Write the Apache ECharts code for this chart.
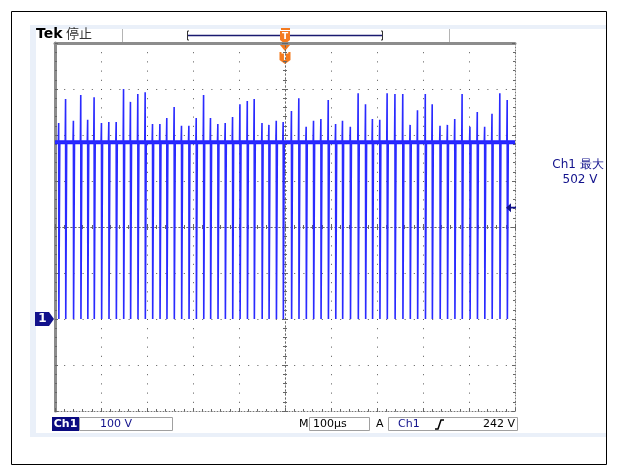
<!DOCTYPE html>
<html>
<head>
<meta charset="utf-8">
<script src="https://cdn.jsdelivr.net/npm/echarts@6/dist/echarts.min.js"></script>
<style>
  html, body { margin: 0; padding: 0; background: #ffffff; }
  #c { width: 617px; height: 475px; }
</style>
</head>
<body>
<div id="c"></div>
<script>
// Ch1 capture: 100 V/div, 100 µs/div, trigger at t = 0
const timeRange = [-500, 500];       // µs, 10 divisions
const voltRange = [-200, 600];       // V, 8 divisions (ground two divisions below centre)
const timeDiv = 100;
const voltDiv = 100;

// switching pulses: time of each edge (µs) and the overshoot peak reached just before it (V)
const pulseTimes = [
  -492, -477, -460, -444, -429, -415, -399, -383, -367, -351, -336, -320, -304, -288, -272, -257,
  -241, -225, -209, -193, -177, -162, -146, -130, -114, -98, -82, -67, -50, -35, -19, -4,
  14, 30, 46, 62, 78, 94, 110, 125, 142, 159, 175, 190, 206, 222, 239, 256,
  272, 288, 305, 320, 337, 353, 369, 385, 402, 418, 434, 450, 467, 483
];
const pulsePeaks = [
  426, 478, 431, 487, 433, 482, 426, 428, 428, 500, 472, 489, 493, 424, 424, 437,
  461, 420, 420, 437, 487, 437, 424, 426, 439, 467, 474, 478, 426, 422, 431, 428,
  452, 480, 418, 431, 435, 476, 424, 431, 418, 491, 467, 435, 433, 491, 489, 489,
  422, 454, 489, 467, 420, 422, 435, 489, 418, 450, 418, 446, 491, 476
];
const highLevel = 384;   // V between pulses
const lowLevel = 0;      // V at the bottom of each pulse

// readouts
const ch1Scale = '100 V';
const timeScale = '100µs';
const triggerLevel = 242;   // V
const ch1Max = 502;         // V

// build the trace from the pulse list
const trace = [[timeRange[0], highLevel]];
pulseTimes.forEach(function (t, i) {
  trace.push([t - 0.8, highLevel]);
  trace.push([t, pulsePeaks[i]]);
  trace.push([t + 0.4, lowLevel]);
  trace.push([t + 2.0, lowLevel]);
  trace.push([t + 2.4, highLevel]);
});
trace.push([timeRange[1], highLevel]);

const NAVY = '#12128c';
const FRAME = '#8c8c8c';
const DOT = '#555555';
const ORANGE = '#f47a1f';
const FONT = '"DejaVu Sans", Verdana, sans-serif';
const CJK = '"Noto Sans CJK SC", sans-serif';

const hiddenLabel = { show: false };
const dotted = { color: DOT, width: 1, type: [1, 8.2] };

function frameX(pos, extra) {
  return Object.assign({
    type: 'value', min: timeRange[0], max: timeRange[1], interval: timeDiv,
    position: pos, axisLabel: hiddenLabel, splitLine: { show: false },
    axisTick: { show: true, inside: true, length: 3, lineStyle: { color: '#666666' } },
    minorTick: { show: true, splitNumber: 5, length: 2, lineStyle: { color: '#666666' } }
  }, extra);
}
function frameY(pos, extra) {
  return Object.assign({
    type: 'value', min: voltRange[0], max: voltRange[1], interval: voltDiv,
    position: pos, axisLabel: hiddenLabel, splitLine: { show: false },
    axisTick: { show: true, inside: true, length: 3, lineStyle: { color: '#666666' } },
    minorTick: { show: true, splitNumber: 5, length: 2, lineStyle: { color: '#666666' } }
  }, extra);
}

const option = {
  animation: false,
  backgroundColor: '#ffffff',
  grid: { left: 55, right: 102, top: 43, bottom: 64, show: true, backgroundColor: '#ffffff', borderWidth: 0 },
  xAxis: [
    frameX('bottom', { axisLine: { show: true, onZero: false, lineStyle: { color: '#777777', width: 1, type: [1, 2] } },
                       splitLine: { show: true, lineStyle: dotted } }),
    frameX('top', { axisLine: { show: true, onZero: false, lineStyle: { color: FRAME, width: 3 } },
                    axisTick: { show: false } , minorTick: { show: false } }),
    frameX('bottom', { axisLine: { show: true, onZero: true, onZeroAxisIndex: 2, lineStyle: { color: '#666666', width: 1, type: [1, 3] } } }),
    frameX('top', { axisLine: { show: true, onZero: true, onZeroAxisIndex: 2, lineStyle: { color: '#666666', width: 1, type: [1, 3] } } })
  ],
  yAxis: [
    frameY('left', { axisLine: { show: true, onZero: false, lineStyle: { color: FRAME, width: 3 } },
                     splitLine: { show: true, lineStyle: dotted } }),
    frameY('right', { axisLine: { show: true, onZero: false, lineStyle: { color: '#777777', width: 1, type: [1, 2] } } }),
    { type: 'value', min: -400, max: 400, position: 'left', axisLine: { show: false, onZero: false },
      axisTick: { show: false }, axisLabel: hiddenLabel, splitLine: { show: false } },
    frameY('left', { axisLine: { show: true, onZero: true, onZeroAxisIndex: 0, lineStyle: { color: '#666666', width: 1, type: [1, 3] } } }),
    frameY('right', { axisLine: { show: true, onZero: true, onZeroAxisIndex: 0, lineStyle: { color: '#666666', width: 1, type: [1, 3] } } })
  ],
  series: [
    {
      name: 'Ch1 level',
      type: 'line', xAxisIndex: 0, yAxisIndex: 0, symbol: 'none', silent: true,
      data: [[timeRange[0], highLevel], [timeRange[1], highLevel]],
      lineStyle: { color: '#1f1fff', width: 4 },
      z: 3
    },
    {
      name: 'Ch1',
      type: 'line', xAxisIndex: 0, yAxisIndex: 0, symbol: 'none', silent: true,
      data: trace,
      lineStyle: { color: '#2a2aff', width: 1.6 },
      z: 4,
      markPoint: {
        silent: true,
        data: [
          { // trigger level arrow on the right edge
            coord: [timeRange[1], triggerLevel],
            symbol: 'path://M0,5 L6,0 L6,4 L12,4 L12,6 L6,6 L6,10 Z',
            symbolSize: [10, 9], symbolOffset: [-4, 0],
            itemStyle: { color: NAVY }, label: { show: false }
          },
          { // ground reference marker
            coord: [timeRange[0], lowLevel],
            symbol: 'path://M0,0 L14,0 L19,7 L14,14 L0,14 Z',
            symbolSize: [19, 14], symbolOffset: [-10.5, 0],
            itemStyle: { color: NAVY },
            label: { show: true, formatter: '1', color: '#ffffff', fontFamily: FONT, fontWeight: 'bold', fontSize: 12, offset: [-2, 0] }
          }
        ]
      }
    }
  ],
  graphic: [
    // screen surround
    { type: 'rect', shape: { x: 11.5, y: 11.5, width: 595, height: 453 }, style: { fill: null, stroke: '#000000', lineWidth: 1 }, z: 0 },
    { type: 'rect', shape: { x: 30, y: 25, width: 577, height: 412 }, style: { fill: '#eaf0f9' }, z: -10 },
    { type: 'rect', shape: { x: 36, y: 29, width: 571, height: 404 }, style: { fill: '#ffffff' }, z: -9 },

    // header
    { type: 'text', left: 36, top: 27, style: { text: 'Tek', font: 'bold 14px ' + FONT, fill: '#000000' } },
    { type: 'text', left: 66, top: 27, style: { text: '停止', font: '13px ' + CJK, fill: '#333333' } },
    { type: 'line', shape: { x1: 122.5, y1: 29, x2: 122.5, y2: 43 }, style: { stroke: '#b4b4b4', lineWidth: 1 } },
    { type: 'line', shape: { x1: 449.5, y1: 29, x2: 449.5, y2: 43 }, style: { stroke: '#b4b4b4', lineWidth: 1 } },
    { type: 'polyline', shape: { points: [[189, 31], [187.5, 31], [187.5, 40], [189, 40]] }, style: { stroke: '#333333', lineWidth: 1, fill: null } },
    { type: 'polyline', shape: { points: [[381, 31], [382.5, 31], [382.5, 40], [381, 40]] }, style: { stroke: '#333333', lineWidth: 1, fill: null } },
    { type: 'line', shape: { x1: 188, y1: 35.5, x2: 382, y2: 35.5 }, style: { stroke: '#1a1a70', lineWidth: 1.5 } },
    // trigger position marker on the record bar
    { type: 'rect', shape: { x: 281, y: 28, width: 9, height: 2 }, style: { fill: ORANGE } },
    { type: 'polygon', shape: { points: [[280, 31], [290, 31], [290, 40], [285, 44], [280, 40]] }, style: { fill: ORANGE } },
    { type: 'text', x: 285, y: 37, style: { text: 'T', font: 'bold 9px ' + FONT, fill: '#ffffff', textAlign: 'center', textVerticalAlign: 'middle' } },
    // trigger position marker below the top edge
    { type: 'polygon', shape: { points: [[280, 45], [290, 45], [285, 51]] }, style: { fill: ORANGE } },
    { type: 'polygon', shape: { points: [[279.5, 52], [290.5, 52], [290.5, 60], [285, 64], [279.5, 60]] }, style: { fill: ORANGE } },
    { type: 'text', x: 285, y: 57.5, style: { text: 'T', font: 'bold 10px ' + FONT, fill: '#ffffff', textAlign: 'center', textVerticalAlign: 'middle' } },

    // measurement readout
    { type: 'text', x: 578, y: 165, style: { text: 'Ch1 最大', font: '12px ' + FONT, fill: NAVY, textAlign: 'center', textVerticalAlign: 'middle' } },
    { type: 'text', x: 580, y: 180, style: { text: ch1Max + ' V', font: '12px ' + FONT, fill: NAVY, textAlign: 'center', textVerticalAlign: 'middle' } },

    // status bar
    { type: 'rect', shape: { x: 52, y: 417, width: 27, height: 14 }, style: { fill: '#0a0a80' } },
    { type: 'text', x: 65.5, y: 424.5, style: { text: 'Ch1', font: 'bold 11px ' + FONT, fill: '#ffffff', textAlign: 'center', textVerticalAlign: 'middle' } },
    { type: 'rect', shape: { x: 79.5, y: 417.5, width: 93, height: 13 }, style: { fill: '#ffffff', stroke: '#a0a0a0', lineWidth: 1 } },
    { type: 'text', x: 100, y: 424.5, style: { text: ch1Scale, font: '11px ' + FONT, fill: NAVY, textVerticalAlign: 'middle' } },
    { type: 'text', x: 299, y: 424.5, style: { text: 'M', font: '11px ' + FONT, fill: '#000000', textVerticalAlign: 'middle' } },
    { type: 'rect', shape: { x: 309.5, y: 417.5, width: 60, height: 13 }, style: { fill: '#ffffff', stroke: '#a0a0a0', lineWidth: 1 } },
    { type: 'text', x: 313, y: 424.5, style: { text: timeScale, font: '11px ' + FONT, fill: '#000000', textVerticalAlign: 'middle' } },
    { type: 'text', x: 376, y: 424.5, style: { text: 'A', font: '11px ' + FONT, fill: '#000000', textVerticalAlign: 'middle' } },
    { type: 'rect', shape: { x: 388.5, y: 417.5, width: 129, height: 13 }, style: { fill: '#ffffff', stroke: '#a0a0a0', lineWidth: 1 } },
    { type: 'text', x: 398, y: 424.5, style: { text: 'Ch1', font: '11px ' + FONT, fill: NAVY, textVerticalAlign: 'middle' } },
    { type: 'polyline', shape: { points: [[435, 429], [438, 429], [441, 420], [444, 420]] }, style: { stroke: '#000000', lineWidth: 1.5, fill: null } },
    { type: 'text', x: 515, y: 424.5, style: { text: triggerLevel + ' V', font: '11px ' + FONT, fill: '#000000', textAlign: 'right', textVerticalAlign: 'middle' } }
  ]
};

const chart = echarts.init(document.getElementById('c'));
chart.setOption(option);
</script>
</body>
</html>
